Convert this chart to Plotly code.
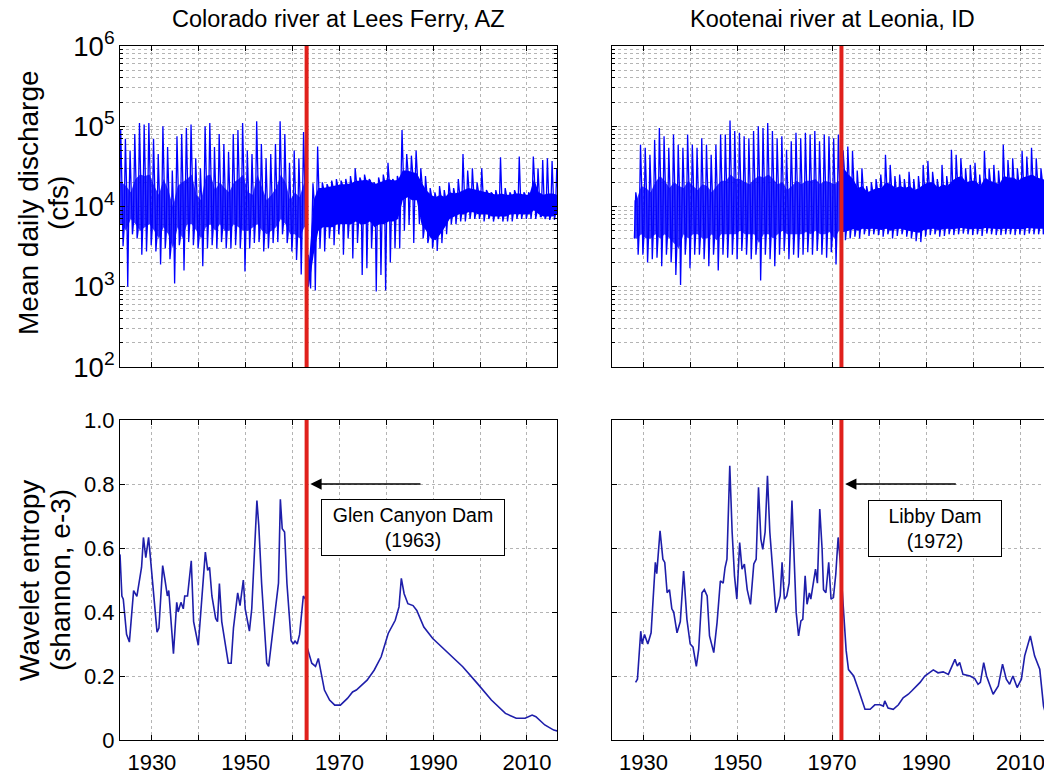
import plotly.graph_objects as go

W, H = 1044, 776

# ---------------- data ----------------
# Colorado river at Lees Ferry, AZ  (annual values, cfs)
col_years = list(range(1923, 2017))
col_peak = [
    90000, 70000, 50000, 80000, 110000, 105000, 110000, 70000, 45000, 100000,
    55000, 28000, 75000, 80000, 95000, 105000, 40000, 30000, 100000, 110000,
    55000, 80000, 60000, 48000, 80000, 90000, 110000, 50000, 45000, 115000,
    60000, 40000, 45000, 60000, 115000, 80000, 35000, 50000, 40000, 85000,
    2500, 19500, 56000, 20000, 19000, 21000, 22000, 21000, 22000, 24000,
    30000, 23000, 25000, 22000, 20000, 23000, 25000, 35000, 22000, 24000,
    90000, 45000, 43000, 50000, 30000, 24000, 17000, 15000, 18000, 16000,
    20000, 17000, 22000, 45000, 28000, 30000, 20000, 30000, 16000, 15000,
    16000, 41000, 17000, 15000, 16000, 42000, 15000, 15000, 42000, 30000,
    38000, 40000, 37000, 30000]
col_low = [
    3200, 1000, 4500, 4000, 2500, 2750, 3300, 2750, 1900, 3000,
    2200, 1100, 3300, 1600, 3600, 3300, 3000, 1800, 3000, 3300,
    3000, 3600, 3000, 3000, 3300, 3000, 1550, 3000, 3500, 3600,
    2750, 3000, 3500, 3600, 4500, 3500, 2750, 2150, 1420, 3300,
    950, 900, 3000, 2750, 4000, 3300, 4500, 2500, 4000, 2250,
    3500, 1400, 1700, 3000, 870, 1400, 900, 2000, 3000, 3000,
    5000, 5900, 3500, 8000, 4000, 3500, 3000, 2800, 3500, 4500,
    6000, 6000, 6500, 6500, 7000, 7000, 7000, 6500, 7000, 6500,
    7000, 6500, 6500, 6500, 7000, 7000, 7000, 7000, 7000, 7500,
    7000, 6800, 6800, 7000]
col_band_hi = [
    20000, 18000, 15000, 22000, 25000, 24000, 25000, 18000, 14000, 22000,
    16000, 10000, 18000, 20000, 22000, 25000, 14000, 12000, 24000, 25000,
    16000, 20000, 17000, 15000, 20000, 22000, 25000, 15000, 14000, 25000,
    17000, 12000, 14000, 17000, 25000, 20000, 12000, 15000, 13000, 20000,
    2000, 12000, 17000, 17000, 17500, 18000, 18500, 19000, 19000, 19500,
    21000, 21000, 21500, 21000, 19000, 20000, 21000, 22000, 21000, 21500,
    28000, 28000, 27000, 26000, 20000, 16000, 14000, 13000, 14000, 13000,
    15000, 14500, 15000, 16000, 17000, 16500, 16000, 15500, 15000, 14500,
    14000, 14500, 14000, 14000, 14500, 14500, 14000, 14000, 22000, 15000,
    14000, 14500, 14500, 14000]
col_band_lo = [
    6000, 5000, 7000, 6000, 5000, 5500, 6000, 5000, 4000, 5500,
    4500, 3000, 5500, 4000, 6000, 6000, 5000, 4000, 5500, 6000,
    5000, 6000, 5000, 5000, 6000, 5500, 5000, 5000, 5500, 6000,
    5000, 4500, 5000, 5500, 7000, 6000, 4500, 4500, 4000, 5500,
    1000, 2500, 5000, 5500, 5500, 5500, 6000, 6000, 6000, 6000,
    6500, 6000, 6000, 6500, 5500, 6000, 6000, 6500, 6500, 7000,
    12000, 13000, 12000, 12000, 6000, 5000, 4000, 3800, 4500, 5500,
    7000, 7500, 8000, 8000, 8500, 8500, 8000, 8000, 8000, 7500,
    7500, 7500, 7500, 8000, 8000, 8000, 8000, 8000, 9000, 8000,
    7500, 7500, 7500, 8000]

# Kootenai river at Leonia, ID
koo_years = list(range(1928, 2016))
koo_peak = [
    15000, 59000, 54000, 44000, 68000, 95000, 75000, 54000, 79000, 59000,
    54000, 79000, 59000, 54000, 71000, 59000, 44000, 59000, 79000, 79000,
    118000, 87000, 83000, 75000, 71000, 87000, 100000, 95000, 110000, 87000,
    71000, 75000, 51000, 65000, 83000, 71000, 83000, 79000, 87000, 65000,
    79000, 75000, 71000, 79000,
    50000, 56000, 49000, 28000, 30000, 18000, 20000, 22000, 25000, 44000,
    33000, 24000, 25000, 22000, 27000, 22000, 24000, 33000, 37000, 27000,
    22000, 33000, 24000, 51000, 44000, 40000, 30000, 33000, 35000, 25000,
    49000, 30000, 33000, 28000, 59000, 38000, 40000, 30000, 49000, 42000,
    54000, 40000, 30000, 28000]
koo_low = [
    2500, 2500, 2000, 2200, 2300, 1800, 2500, 2000, 1400, 1050,
    2500, 1700, 2500, 2500, 2200, 1800, 2500, 1600, 2500, 2300,
    2500, 2200, 2800, 2500, 2200, 2500, 1200, 2500, 2200, 1800,
    2500, 2800, 2200, 2500, 2300, 2500, 2700, 2500, 2800, 2500,
    2300, 2700, 1900, 2800,
    3800, 4000, 4200, 4000, 4500, 4300, 4500, 4400, 4200, 4500,
    4000, 4300, 4500, 4200, 4000, 3700, 3600, 4200, 4400, 4500,
    4200, 4300, 4500, 4400, 4500, 4600, 4500, 4400, 4500, 4300,
    4600, 4500, 4400, 4400, 4500, 4500, 4400, 4500, 4400, 4600,
    4500, 4500, 4500, 4500]
koo_band_hi = [
    12000, 18000, 17000, 15000, 20000, 24000, 21000, 17000, 20000, 18000,
    17000, 21000, 18000, 16000, 19000, 18000, 15000, 18000, 21000, 21000,
    25000, 22000, 22000, 20000, 19000, 22000, 24000, 23000, 25000, 22000,
    19000, 20000, 16000, 18000, 21000, 19000, 21000, 21000, 22000, 19000,
    21000, 20000, 19000, 21000,
    30000, 25000, 22000, 17000, 18000, 15000, 16000, 17000, 17000, 20000,
    19000, 17000, 18000, 17000, 18000, 16000, 17000, 19000, 20000, 20000,
    17000, 19000, 18000, 21000, 23000, 24000, 20000, 21000, 21000, 18000,
    23000, 21000, 20000, 19000, 24000, 23000, 23000, 21000, 23000, 24000,
    25000, 23000, 22000, 21000]
koo_band_lo = [
    4000, 4500, 4000, 4000, 4500, 4000, 4500, 4000, 3500, 3000,
    4500, 4000, 4500, 4500, 4000, 4000, 4500, 3800, 4500, 4500,
    4500, 4500, 5000, 4500, 4500, 4500, 3500, 4500, 4500, 4000,
    4500, 5000, 4500, 4500, 4500, 4500, 4800, 4500, 5000, 4500,
    4500, 4800, 4000, 5000,
    4800, 5000, 5200, 5000, 5300, 5200, 5300, 5200, 5100, 5300,
    5000, 5200, 5300, 5100, 5000, 4800, 4700, 5100, 5200, 5300,
    5100, 5200, 5300, 5200, 5300, 5400, 5300, 5200, 5300, 5200,
    5400, 5300, 5200, 5200, 5300, 5300, 5200, 5300, 5200, 5400,
    5300, 5300, 5300, 5300]

# Wavelet entropy (shannon, e-3)
col_ent_year = [
    1923.2, 1923.6, 1923.9, 1924.6, 1925.2, 1926.1, 1926.8, 1927.5, 1927.8, 1928.2,
    1928.7, 1929.3, 1929.6, 1930.3, 1931.1, 1931.5, 1932.3, 1932.8, 1933.3, 1933.6,
    1934.6, 1935.3, 1935.6, 1936.2, 1936.7, 1937.0, 1937.6, 1938.4, 1938.9, 1939.9,
    1941.4, 1941.9, 1942.3, 1942.8, 1943.6, 1944.0, 1944.4, 1944.9, 1946.3, 1946.9,
    1947.4, 1948.3, 1948.8, 1949.5, 1949.9, 1950.8, 1951.3, 1952.4, 1952.8, 1953.4,
    1954.5, 1954.9, 1956.2, 1957.0, 1957.4, 1957.8, 1958.3, 1958.8, 1959.7, 1960.2,
    1960.5, 1961.0, 1961.5, 1962.3, 1962.8, 1963.1, 1964.1, 1964.9, 1965.5, 1966.0,
    1966.8, 1967.9, 1969.0, 1970.2, 1971.7, 1972.8, 1973.6, 1975.9, 1977.4, 1978.9,
    1980.4, 1981.9, 1982.7, 1983.2, 1983.8, 1984.6, 1985.7, 1986.5, 1988.0, 1989.9,
    1992.5, 1995.6, 1996.3, 1999.4, 2002.4, 2005.4, 2007.7, 2009.6, 2011.1, 2011.9,
    2013.8, 2015.7, 2016.6]
col_ent_val = [
    0.58, 0.45, 0.44, 0.33, 0.306, 0.467, 0.449, 0.511, 0.54, 0.633,
    0.57, 0.633, 0.58, 0.46, 0.337, 0.35, 0.545, 0.50, 0.45, 0.467,
    0.27, 0.43, 0.40, 0.43, 0.41, 0.45, 0.45, 0.56, 0.37, 0.296,
    0.587, 0.53, 0.54, 0.45, 0.38, 0.37, 0.489, 0.37, 0.24, 0.24,
    0.35, 0.46, 0.42, 0.50, 0.41, 0.34, 0.41, 0.748, 0.67, 0.49,
    0.24, 0.23, 0.39, 0.49, 0.752, 0.66, 0.65, 0.49, 0.31, 0.30,
    0.31, 0.30, 0.33, 0.45, 0.44, 0.29, 0.24, 0.23, 0.255, 0.22,
    0.156, 0.125, 0.109, 0.109, 0.13, 0.15, 0.156, 0.187, 0.218, 0.26,
    0.333, 0.374, 0.416, 0.505, 0.457, 0.426, 0.42, 0.405, 0.353, 0.317,
    0.28, 0.239, 0.229, 0.177, 0.125, 0.083, 0.068, 0.068, 0.078, 0.073,
    0.047, 0.031, 0.028]

koo_ent_year = [
    1928.3, 1928.7, 1929.4, 1929.7, 1930.2, 1930.9, 1931.6, 1932.5, 1932.8, 1933.5,
    1934.1, 1934.5, 1935.0, 1935.5, 1936.0, 1936.4, 1937.1, 1937.8, 1938.5, 1939.2,
    1939.9, 1940.5, 1941.2, 1941.7, 1942.4, 1942.9, 1943.5, 1944.0, 1944.9, 1945.6,
    1946.3, 1946.9, 1947.3, 1947.7, 1948.3, 1948.8, 1949.3, 1949.8, 1950.4, 1950.9,
    1951.4, 1952.0, 1952.7, 1953.4, 1953.9, 1954.4, 1954.9, 1955.3, 1955.8, 1956.3,
    1956.8, 1957.3, 1957.6, 1958.1, 1958.5, 1959.0, 1959.4, 1959.9, 1960.4, 1960.9,
    1961.5, 1962.0, 1962.4, 1962.9, 1963.4, 1963.8, 1964.3, 1964.7, 1965.2, 1965.5,
    1966.1, 1966.5, 1966.9, 1967.4, 1967.9, 1968.2, 1968.7, 1969.3, 1969.8, 1970.3,
    1970.8, 1971.3, 1971.8, 1972.4, 1973.0, 1973.5, 1974.6, 1975.6, 1976.3, 1977.0,
    1978.1, 1979.1, 1980.2, 1980.9, 1981.2, 1981.9, 1983.0, 1984.1, 1985.1, 1986.2,
    1986.9, 1987.6, 1988.7, 1989.7, 1990.8, 1991.5, 1992.5, 1993.6, 1994.7, 1995.4,
    1996.1, 1996.6, 1997.1, 1997.8, 1999.3, 2000.3, 2001.0, 2001.5, 2002.2, 2002.8,
    2004.2, 2005.3, 2006.2, 2007.0, 2007.7, 2008.4, 2009.3, 2010.2, 2010.9, 2012.1,
    2013.0, 2014.1, 2014.9, 2015.2]
koo_ent_val = [
    0.18, 0.19, 0.34, 0.30, 0.33, 0.30, 0.335, 0.555, 0.52, 0.654,
    0.565, 0.555, 0.46, 0.47, 0.41, 0.40, 0.335, 0.37, 0.528, 0.377,
    0.30, 0.29, 0.23, 0.283, 0.46, 0.47, 0.45, 0.325, 0.273, 0.367,
    0.497, 0.49, 0.539, 0.565, 0.857, 0.65, 0.513, 0.44, 0.617, 0.534,
    0.55, 0.47, 0.424, 0.55, 0.565, 0.79, 0.628, 0.596, 0.65, 0.826,
    0.65, 0.544, 0.49, 0.398, 0.42, 0.45, 0.555, 0.44, 0.45, 0.49,
    0.748, 0.575, 0.398, 0.325, 0.372, 0.377, 0.513, 0.424, 0.46, 0.44,
    0.503, 0.534, 0.49, 0.722, 0.596, 0.47, 0.46, 0.555, 0.44, 0.445,
    0.518, 0.633, 0.55, 0.40, 0.28, 0.22, 0.20, 0.158, 0.127, 0.096,
    0.096, 0.11, 0.11, 0.106, 0.122, 0.10, 0.096, 0.11, 0.132, 0.143,
    0.153, 0.164, 0.18, 0.20, 0.21, 0.219, 0.21, 0.213, 0.205, 0.231,
    0.252, 0.231, 0.242, 0.205, 0.20, 0.192, 0.174, 0.18, 0.242, 0.20,
    0.143, 0.169, 0.237, 0.19, 0.174, 0.20, 0.164, 0.19, 0.263, 0.325,
    0.263, 0.221, 0.106, 0.09]

dam_years = [1963, 1972]
dam_labels = ["Glen Canyon Dam<br>(1963)", "Libby Dam<br>(1972)"]
panel_titles = ["Colorado river at Lees Ferry, AZ", "Kootenai river at Leonia, ID"]
x_tick_vals = [1930, 1940, 1950, 1960, 1970, 1980, 1990, 2000, 2010]
x_tick_text = ["1930", "", "1950", "", "1970", "", "1990", "", "2010"]
y2_tick_vals = [0, 0.2, 0.4, 0.6, 0.8, 1.0]
y2_tick_text = ["0", "0.2", "0.4", "0.6", "0.8", "1.0"]

# ---------------- layout helpers ----------------
def px_x(p):
    return p / W


def px_y(p):
    return 1 - p / H


FONT = "Liberation Sans, Arial, Helvetica, sans-serif"
BLUE = "#0000ff"
NAVY = "#1e1eaa"
RED = "#e0201c"
GRID = "#b4b4b4"

L_DOM = [px_x(120), px_x(557)]
R_DOM = [px_x(612), 1.0]
T_DOM = [px_y(367), px_y(46)]
B_DOM = [px_y(740), px_y(420)]
X_RANGE_L = [1923.2, 2016.4]
X_RANGE_R = [1923.3, 2015.0]


def zigzag(years, peak, low, bhi, blo):
    xs, ys = [], []
    for yr, p, l, h, b in zip(years, peak, low, bhi, blo):
        xs += [yr + 0.05, yr + 0.35, yr + 0.6, yr + 0.85]
        ys += [b, p, h, l]
    return xs, ys


fig = go.Figure()


def add_band(years, bhi, blo, x0, x1, xa, ya, color):
    sel = [i for i, y in enumerate(years) if x0 <= y < x1]
    bx = [years[sel[0]] + 0.05] + [years[i] + 0.5 for i in sel] + [years[sel[-1]] + 0.95]
    bh = [bhi[sel[0]]] + [bhi[i] for i in sel] + [bhi[sel[-1]]]
    bl = [blo[sel[0]]] + [blo[i] for i in sel] + [blo[sel[-1]]]
    fig.add_trace(go.Scatter(x=bx, y=bh, mode="lines", line=dict(width=0, color=color),
                             xaxis=xa, yaxis=ya, showlegend=False, hoverinfo="skip"))
    fig.add_trace(go.Scatter(x=bx, y=bl, mode="lines", line=dict(width=0, color=color),
                             fill="tonexty", fillcolor=color,
                             xaxis=xa, yaxis=ya, showlegend=False, hoverinfo="skip"))


def add_discharge(years, peak, low, bhi, blo, dam, xa, ya):
    add_band(years, bhi, blo, years[0], dam, xa, ya, "rgba(0,0,255,0.78)")
    add_band(years, bhi, blo, dam, years[-1] + 1, xa, ya, BLUE)
    zx, zy = zigzag(years, peak, low, bhi, blo)
    fig.add_trace(go.Scatter(x=zx, y=zy, mode="lines", line=dict(width=1.3, color=BLUE),
                             xaxis=xa, yaxis=ya, showlegend=False))


add_discharge(col_years, col_peak, col_low, col_band_hi, col_band_lo, dam_years[0], "x", "y")
add_discharge(koo_years, koo_peak, koo_low, koo_band_hi, koo_band_lo, dam_years[1], "x3", "y3")

fig.add_trace(go.Scatter(x=col_ent_year, y=col_ent_val, mode="lines",
                         line=dict(width=1.6, color=NAVY), xaxis="x2", yaxis="y2",
                         showlegend=False))
fig.add_trace(go.Scatter(x=koo_ent_year, y=koo_ent_val, mode="lines",
                         line=dict(width=1.6, color=NAVY), xaxis="x4", yaxis="y4",
                         showlegend=False))

tickfont = dict(family=FONT, size=22, color="black")
common_x = dict(tickmode="array", tickvals=x_tick_vals, ticks="inside", ticklen=5,
                tickcolor="black", showline=True, linecolor="black", linewidth=1,
                showgrid=True, gridcolor=GRID, griddash="dot", gridwidth=1,
                zeroline=False, tickfont=tickfont, ticklabelstandoff=3,
                automargin=False, ticklabeloverflow="allow")

log_y = dict(type="log", range=[2, 6], dtick=1, exponentformat="power",
             ticks="inside", ticklen=5, tickcolor="black",
             showline=True, linecolor="black", linewidth=1,
             showgrid=True, gridcolor=GRID, griddash="dot", gridwidth=1,
             minor=dict(dtick="D1", ticks="inside", ticklen=3, tickcolor="black",
                        showgrid=True, gridcolor=GRID, griddash="dot", gridwidth=1),
             zeroline=False, tickfont=tickfont, automargin=False,
             ticklabeloverflow="allow")

lin_y = dict(range=[0, 1], tickmode="array", tickvals=y2_tick_vals, ticktext=y2_tick_text,
             ticks="inside", ticklen=5, tickcolor="black",
             showline=True, linecolor="black", linewidth=1,
             showgrid=True, gridcolor=GRID, griddash="dot", gridwidth=1,
             zeroline=False, tickfont=tickfont, automargin=False,
             ticklabeloverflow="allow")

fig.update_layout(
    template="none",
    width=W, height=H, margin=dict(l=0, r=0, t=0, b=0, pad=0), autosize=False,
    paper_bgcolor="white", plot_bgcolor="white",
    xaxis=dict(common_x, domain=L_DOM, range=X_RANGE_L, anchor="y",
               showticklabels=False, mirror="ticks"),
    xaxis2=dict(common_x, domain=L_DOM, range=X_RANGE_L, anchor="y2",
                ticktext=x_tick_text, mirror="ticks"),
    xaxis3=dict(common_x, domain=R_DOM, range=X_RANGE_R, anchor="y3",
                showticklabels=False, mirror="ticks"),
    xaxis4=dict(common_x, domain=R_DOM, range=X_RANGE_R, anchor="y4",
                ticktext=x_tick_text, mirror="ticks"),
    yaxis=dict(log_y, domain=T_DOM, anchor="x", mirror="ticks"),
    yaxis2=dict(lin_y, domain=B_DOM, anchor="x2", mirror="ticks"),
    yaxis3=dict(log_y, domain=T_DOM, anchor="x3", showticklabels=False),
    yaxis4=dict(lin_y, domain=B_DOM, anchor="x4", showticklabels=False),
)

# dam lines
for dy, xa, ya in [(dam_years[0], "x", "y"), (dam_years[0], "x2", "y2"),
                   (dam_years[1], "x3", "y3"), (dam_years[1], "x4", "y4")]:
    fig.add_shape(type="line", x0=dy, x1=dy, xref=xa, y0=0, y1=1,
                  yref=ya + " domain", line=dict(color=RED, width=4))

# arrows and boxes
fig.add_annotation(x=1963.8, y=0.8, ax=1987.6, ay=0.8, xref="x2", yref="y2",
                   axref="x2", ayref="y2", showarrow=True, arrowhead=2, arrowsize=1.5,
                   arrowwidth=1.5, arrowcolor="black", text="")
fig.add_annotation(x=1972.8, y=0.8, ax=1996.6, ay=0.8, xref="x4", yref="y4",
                   axref="x4", ayref="y4", showarrow=True, arrowhead=2, arrowsize=1.5,
                   arrowwidth=1.5, arrowcolor="black", text="")
fig.add_annotation(x=1985.6, y=0.664, xref="x2", yref="y2", text=dam_labels[0],
                   showarrow=False, font=dict(family=FONT, size=19.5, color="black"),
                   bordercolor="black", borderwidth=1, bgcolor="white",
                   width=178, height=51, borderpad=2)
fig.add_annotation(x=1991.8, y=0.66, xref="x4", yref="y4", text=dam_labels[1],
                   showarrow=False, font=dict(family=FONT, size=19.5, color="black"),
                   bordercolor="black", borderwidth=1, bgcolor="white",
                   width=128, height=51, borderpad=2)

# titles
for t, cx in zip(panel_titles, [338, 832]):
    fig.add_annotation(x=px_x(cx), y=px_y(19), xref="paper", yref="paper", text=t,
                       showarrow=False, xanchor="center", yanchor="middle",
                       font=dict(family=FONT, size=23.5, color="black"))

# y-axis titles
for txt, cx, cy in [("Mean daily discharge", 29, 203), ("(cfs)", 59, 203),
                    ("Wavelet entropy", 29, 581), ("(shannon, e-3)", 60, 580)]:
    fig.add_annotation(x=px_x(cx), y=px_y(cy), xref="paper", yref="paper", text=txt,
                       showarrow=False, textangle=-90, xanchor="center", yanchor="middle",
                       font=dict(family=FONT, size=28, color="black"))

fig.write_html("out.html")
